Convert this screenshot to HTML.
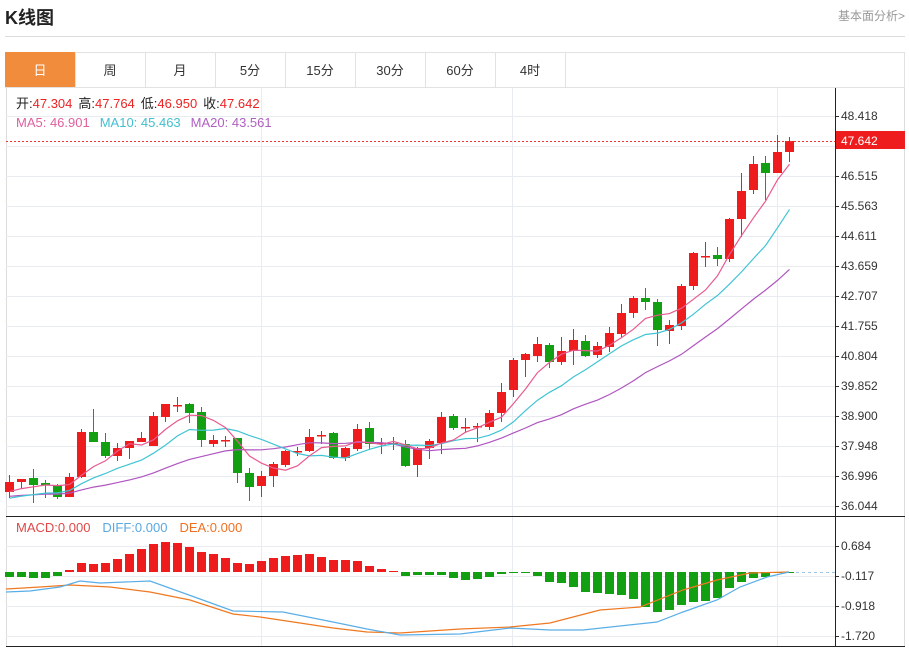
<!DOCTYPE html>
<html><head><meta charset="utf-8"><style>
body{margin:0;width:909px;height:648px;background:#fff;font-family:"Liberation Sans","Noto Sans CJK SC",sans-serif;overflow:hidden;position:relative}
.t{position:absolute;white-space:nowrap}
</style></head><body>
<div class="t" style="left:5px;top:4px;font-size:18px;font-weight:bold;color:#222">K线图</div>
<div class="t" style="right:4px;top:7px;font-size:12px;color:#999">基本面分析&gt;</div>
<div style="position:absolute;left:5px;top:36px;width:900px;height:1px;background:#ddd"></div>
<svg id="s" width="909" height="648" style="position:absolute;left:0;top:0" font-family="Liberation Sans, Noto Sans CJK SC, sans-serif"></svg>
<script>
const S=document.getElementById('s');let h='';
// tabs
h+='<rect x="5.5" y="52.5" width="899" height="35" fill="#fff" stroke="#e2e2e2"/>';
const tabs=['日','周','月','5分','15分','30分','60分','4时'];
tabs.forEach((t,i)=>{const x=5+i*70;
 if(i==0)h+='<rect x="5" y="52" width="70" height="35" fill="#f08c3c"/>';
 h+='<line x1="'+(x+70.5)+'" y1="52" x2="'+(x+70.5)+'" y2="87" stroke="#e2e2e2"/>';
 h+='<text x="'+(x+35)+'" y="75" font-size="13" text-anchor="middle" fill="'+(i==0?'#fff':'#333')+'">'+t+'</text>';});
// frame
h+='<line x1="6.5" y1="88" x2="6.5" y2="646" stroke="#ddd"/><line x1="904.5" y1="88" x2="904.5" y2="646" stroke="#ddd"/>';
const py=[116,146,176,206,236,266,296,326,356,386,416,446,476,506];
const pl=['48.418','','46.515','45.563','44.611','43.659','42.707','41.755','40.804','39.852','38.900','37.948','36.996','36.044'];
py.forEach((y,i)=>{h+='<line x1="6" y1="'+(y+.5)+'" x2="835" y2="'+(y+.5)+'" stroke="#e8ecf0"/>';
 h+='<line x1="835" y1="'+(y+.5)+'" x2="839" y2="'+(y+.5)+'" stroke="#333"/>';
 if(pl[i])h+='<text x="841" y="'+(y+4)+'" font-size="12" fill="#333">'+pl[i]+'</text>';});
const my=[546,576,606,636],ml=['0.684','-0.117','-0.918','-1.720'];
my.forEach((y,i)=>{h+='<line x1="6" y1="'+(y+.5)+'" x2="835" y2="'+(y+.5)+'" stroke="#e8ecf0"/>';
 h+='<line x1="835" y1="'+(y+.5)+'" x2="839" y2="'+(y+.5)+'" stroke="#333"/>';
 h+='<text x="841" y="'+(y+4)+'" font-size="12" fill="#333">'+ml[i]+'</text>';});
[261,512,777].forEach(x=>{h+='<line x1="'+(x+.5)+'" y1="88" x2="'+(x+.5)+'" y2="646" stroke="#e8ecf0"/>';});
h+='<line x1="835.5" y1="88" x2="835.5" y2="646" stroke="#222"/>';
h+='<line x1="6" y1="516.5" x2="905" y2="516.5" stroke="#222"/><line x1="6" y1="646.5" x2="905" y2="646.5" stroke="#222"/>';
// candles [open,close,high,low] in y px
const C=[[492,482,475,498],[482,479,479,488],[478,485,469,503],[483,485,480,498],[485,497,484,499],[497,477,473,497],[477,432,429,478],[432,442,409,442],[442,456,433,458],[456,448,443,461],[448,441,441,459],[442,438,432,442],[446,416,412,446],[417,404,404,422],[405,405,397,412],[404,413,403,423],[412,440,407,447],[444,440,435,447],[440,440,436,447],[438,473,438,483],[473,487,468,501],[486,476,471,497],[476,464,462,487],[465,451,450,467],[451,451,447,456],[451,437,429,452],[435,435,431,444],[433,458,432,459],[458,448,447,461],[449,429,424,451],[428,444,422,450],[443,443,438,454],[443,443,437,450],[444,466,440,467],[465,448,447,477],[448,441,439,459],[443,417,412,454],[416,428,414,430],[427,427,418,433],[426,426,423,442],[427,413,410,430],[413,392,383,422],[390,360,358,397],[360,354,353,377],[356,344,337,362],[345,362,343,368],[362,351,337,365],[351,340,329,365],[341,356,335,357],[355,346,342,358],[347,333,327,352],[334,313,304,337],[313,298,296,318],[298,302,288,310],[302,330,299,346],[331,325,320,344],[326,286,284,330],[286,253,252,290],[256,256,242,267],[255,259,247,266],[259,219,218,262],[219,191,173,237],[190,164,156,194],[163,173,156,200],[173,152,135,173],[152,141,137,162]];
const X=i=>9.5+i*12;
// MAs
const cl=C.map(c=>c[1]);
function ma(n,pad){const a=[];for(let i=0;i<C.length;i++){let s=0;for(let k=i-n+1;k<=i;k++)s+=k<0?pad:cl[k];a.push(s/n);}return a;}
function pl2(a,col){return '<polyline fill="none" stroke="'+col+'" stroke-width="1.2" points="'+a.map((v,i)=>X(i)+','+v.toFixed(1)).join(' ')+'"/>';}
C.forEach((c,i)=>{const x=X(i),up=c[1]<=c[0],col=up?'#ee1c1c':'#12a012';
 h+='<line x1="'+x+'" y1="'+c[2]+'" x2="'+x+'" y2="'+c[3]+'" stroke="'+col+'"/>';
 const t=Math.min(c[0],c[1]),b=Math.max(c[0],c[1]);
 h+='<rect x="'+(x-4.5)+'" y="'+t+'" width="9" height="'+Math.max(1.5,b-t)+'" fill="'+col+'"/>';});
h+=pl2(ma(20,497),'#b055c0')+pl2(ma(10,500),'#40c4d4')+pl2(ma(5,494),'#e85a90');
// price line & label
h+='<line x1="6" y1="141.5" x2="835" y2="141.5" stroke="#e33" stroke-dasharray="2,2"/>';
h+='<rect x="836" y="131" width="69" height="18" fill="#ee1c1c"/><text x="841" y="145" font-size="12" fill="#fff">47.642</text>';
// macd
const M=[577,577,578,578,576,-570,-563,-564,-563,-559,-554,-549,-544,-542,-543,-547,-552,-554,-558,-563,-564,-561,-558,-556,-555,-554,-557,-560,-560,-561,-566,-569,-571,576,575,575,575,578,580,579,577,574,573,573,576,582,583,587,592,593,594,595,599,607,612,610,605,602,601,598,588,582,578,577,573,572.5];
h+='<line x1="700" y1="572.5" x2="835" y2="572.5" stroke="#9cc8e8" stroke-dasharray="3,3"/>';
M.forEach((v,i)=>{const x=X(i);if(v<0){v=-v;h+='<rect x="'+(x-4.5)+'" y="'+v+'" width="9" height="'+(572-v)+'" fill="#ee1c1c"/>';}
 else h+='<rect x="'+(x-4.5)+'" y="572" width="9" height="'+Math.max(1,v-572)+'" fill="#12a012"/>';});
h+='<polyline fill="none" stroke="#f07820" stroke-width="1.2" points="6,589 40,587 70,585 110,587 150,592 190,600 233,614 260,617 300,623 333,628 367,632 400,633 460,629 510,627 550,623 600,610 640,607 683,590 717,580 750,573 789,572"/>';
h+='<polyline fill="none" stroke="#5aaee6" stroke-width="1.2" points="6,592 30,591 60,587 80,581 100,583 150,581 200,599 233,611 283,612 333,622 367,629 400,635 460,634 510,628 550,630 583,630 657,622 683,612 717,600 740,587 767,577 789,572"/>';
// legends
h+='<text x="16" y="108" font-size="13"><tspan fill="#222">开:</tspan><tspan fill="#e22">47.304</tspan><tspan fill="#222" dx="6">高:</tspan><tspan fill="#e22">47.764</tspan><tspan fill="#222" dx="6">低:</tspan><tspan fill="#e22">46.950</tspan><tspan fill="#222" dx="6">收:</tspan><tspan fill="#e22">47.642</tspan></text>';
h+='<text x="16" y="127" font-size="13"><tspan fill="#e060a0">MA5: 46.901</tspan><tspan fill="#40c0d0" dx="10">MA10: 45.463</tspan><tspan fill="#b060c0" dx="10">MA20: 43.561</tspan></text>';
h+='<text x="16" y="532" font-size="13"><tspan fill="#e04848">MACD:0.000</tspan><tspan fill="#5aa8e0" dx="12">DIFF:0.000</tspan><tspan fill="#f07020" dx="12">DEA:0.000</tspan></text>';
S.innerHTML=h;
</script>
</body></html>
